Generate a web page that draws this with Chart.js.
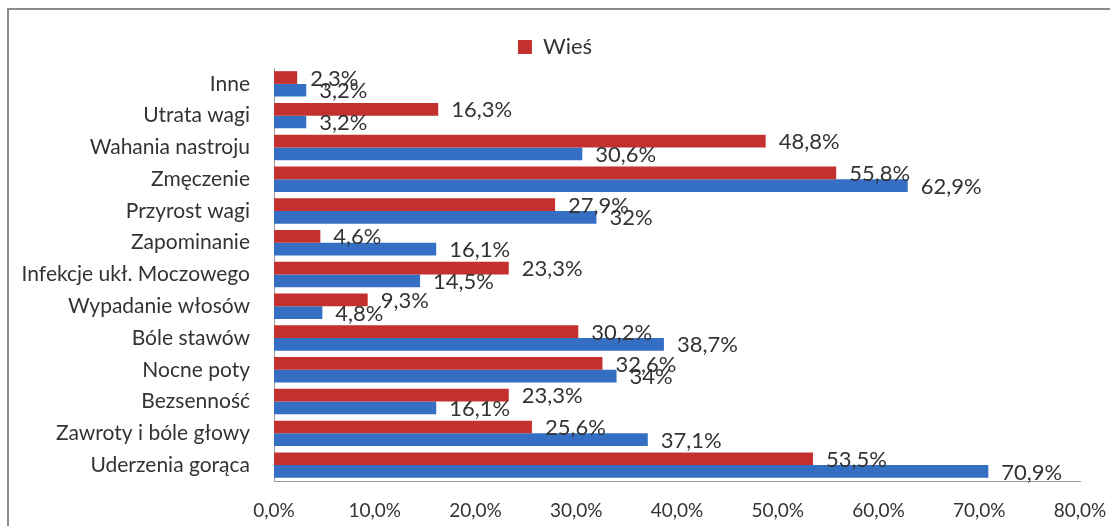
<!DOCTYPE html>
<html>
<head>
<meta charset="utf-8">
<script src="https://cdn.jsdelivr.net/npm/chart.js@4.4.0/dist/chart.umd.min.js"></script>
<style>
  html, body { margin: 0; padding: 0; background: #fff; overflow: hidden; }
  #wrap { position: relative; width: 1110px; height: 526px; }
  #frame { position: absolute; left: 7px; top: 8px; width: 1200px; height: 600px; border: 2px solid #8c8c8c; box-sizing: border-box; pointer-events: none; }
</style>
</head>
<body>
<div id="wrap">
  <canvas id="chart" width="1110" height="526"></canvas>
  <div id="frame"></div>
</div>
<script>
// Categories, top to bottom
const categories = [
    'Inne',
    'Utrata wagi',
    'Wahania nastroju',
    'Zmęczenie',
    'Przyrost wagi',
    'Zapominanie',
    'Infekcje ukł. Moczowego',
    'Wypadanie włosów',
    'Bóle stawów',
    'Nocne poty',
    'Bezsenność',
    'Zawroty i bóle głowy',
    'Uderzenia gorąca'
];

// Percent values per series
const wiesValues = [2.3, 16.3, 48.8, 55.8, 27.9, 4.6, 23.3, 9.3, 30.2, 32.6, 23.3, 25.6, 53.5];
const miastoValues = [3.2, 3.2, 30.6, 62.9, 32, 16.1, 14.5, 4.8, 38.7, 34, 16.1, 37.1, 70.9];

const FONT = 'Lato, "Open Sans", sans-serif';

function plPercent(v, fixed) {
    const s = fixed ? v.toFixed(1) : String(v);
    return s.replace('.', ',') + '%';
}

// Draws "xx,x%" at the end of every bar
const endLabels = {
    id: 'endLabels',
    afterDatasetsDraw(chart) {
        const ctx = chart.ctx;
        ctx.save();
        ctx.font = '22px ' + FONT;
        ctx.fillStyle = '#333';
        ctx.textAlign = 'left';
        ctx.textBaseline = 'middle';
        chart.data.datasets.forEach((ds, di) => {
            chart.getDatasetMeta(di).data.forEach((bar, i) => {
                ctx.fillText(plPercent(ds.data[i], false), bar.x + 13, bar.y + 1);
            });
        });
        ctx.restore();
    }
};

new Chart(document.getElementById('chart').getContext('2d'), {
    type: 'bar',
    data: {
        labels: categories,
        datasets: [
            {
                label: 'Wieś',
                data: wiesValues,
                backgroundColor: '#C3302E',
                categoryPercentage: 0.8,
                barPercentage: 1.0
            },
            {
                label: 'Miasto',
                data: miastoValues,
                backgroundColor: '#356FC4',
                categoryPercentage: 0.8,
                barPercentage: 1.0
            }
        ]
    },
    options: {
        indexAxis: 'y',
        responsive: false,
        animation: false,
        layout: { padding: { top: 22, right: 0, bottom: 0, left: 0 } },
        plugins: {
            legend: {
                display: true,
                labels: {
                    filter: item => item.text === 'Wieś',
                    boxWidth: 14,
                    boxHeight: 14,
                    padding: 14,
                    color: '#333',
                    font: { family: FONT, size: 22 }
                }
            },
            tooltip: { enabled: false }
        },
        scales: {
            x: {
                min: 0,
                max: 80,
                ticks: {
                    stepSize: 10,
                    padding: 18,
                    color: '#333',
                    font: { family: FONT, size: 19 },
                    callback: v => plPercent(v, true)
                },
                grid: { display: false, drawTicks: false },
                border: { display: true, color: '#999', width: 1 },
                afterFit: scale => {
                    scale.height = 45;
                    scale.paddingRight = 30;
                }
            },
            y: {
                ticks: {
                    padding: 24,
                    color: '#333',
                    font: { family: FONT, size: 21 }
                },
                grid: { display: false, drawTicks: false },
                border: { display: true, color: '#999', width: 1 },
                afterFit: scale => { scale.width = 274; }
            }
        }
    },
    plugins: [endLabels]
});
</script>
</body>
</html>
